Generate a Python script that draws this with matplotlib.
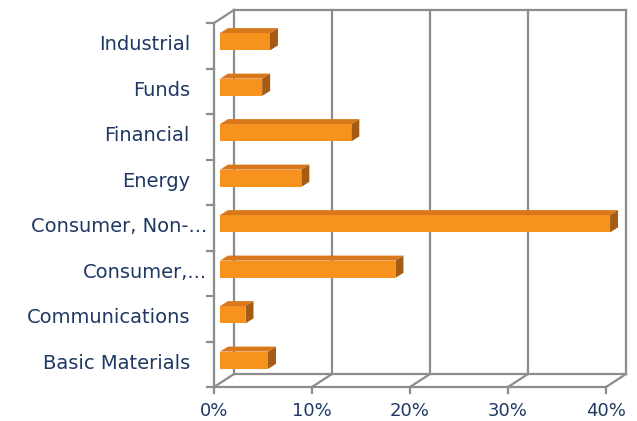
import matplotlib.pyplot as plt
from matplotlib.patches import Polygon
from matplotlib import transforms

plt.rcParams['font.family'] = ['DejaVu Sans']

categories = ["Basic Materials", "Communications", "Consumer,...", "Consumer, Non-...",
              "Energy", "Financial", "Funds", "Industrial"]
values = [4.9, 2.6, 17.9, 39.8, 8.3, 13.4, 4.3, 5.1]
xticks = [0, 10, 20, 30, 40]
xlabels = ["0%", "10%", "20%", "30%", "40%"]

front_c = "#F7921E"
top_c = "#D9781A"
side_c = "#A45C14"
grid_c = "#8C8C8C"
text_c = "#1F3864"

fig = plt.figure(figsize=(6.37, 4.21), dpi=100)
# axes in the plane of the bars' front faces
ax = fig.add_axes([220 / 637, 1 - 383 / 421, 392 / 637, 364 / 421])
ax.set_xlim(0, 40)
ax.set_ylim(-0.5, 7.5)
ax.axis("off")

def shifted(dx, dy):
    return transforms.offset_copy(ax.transData, fig=fig, x=dx, y=dy, units="dots")

back = shifted(14, 9)
front = shifted(-6, -4)
lw = 1.6

# back wall gridlines + top/bottom edges
for x in xticks:
    ax.plot([x, x], [-0.5, 7.5], color=grid_c, lw=lw, transform=back, clip_on=False)
ax.plot([0, 40], [7.5, 7.5], color=grid_c, lw=lw, transform=back, clip_on=False)
ax.plot([0, 40], [-0.5, -0.5], color=grid_c, lw=lw, transform=back, clip_on=False)

# front floor edge and left front edge
ax.plot([0, 40], [-0.5, -0.5], color=grid_c, lw=lw, transform=front, clip_on=False)
ax.plot([0, 0], [-0.5, 7.5], color=grid_c, lw=lw, transform=front, clip_on=False)

def seg(p1, p2):
    fig.add_artist(plt.Line2D([p1[0] / 637, p2[0] / 637], [p1[1] / 421, p2[1] / 421],
                              color=grid_c, lw=lw))

# floor diagonals and top-left diagonal
for x in xticks:
    seg(front.transform((x, -0.5)), back.transform((x, -0.5)))
seg(front.transform((0, 7.5)), back.transform((0, 7.5)))

# ticks
for i in range(len(categories) + 1):
    p = front.transform((0, i - 0.5))
    seg((p[0] - 7, p[1]), p)
for x, lab in zip(xticks, xlabels):
    p = front.transform((x, -0.5))
    seg(p, (p[0], p[1] - 6))
    fig.text(p[0] / 637, (p[1] - 24) / 421, lab, ha="center", va="center",
             fontsize=13, color=text_c)

# bars
h = 0.38
dx, dy = 8, 5
for i, (c, v) in enumerate(zip(categories, values)):
    y0, y1 = i - h / 2, i + h / 2
    ax.barh(i, v, height=h, color=front_c, edgecolor="none", zorder=3)
    a = ax.transData.transform((0, y1))
    b = ax.transData.transform((v, y1))
    c0 = ax.transData.transform((v, y0))
    top = Polygon([a, b, (b[0] + dx, b[1] + dy), (a[0] + dx, a[1] + dy)],
                  closed=True, transform=None, facecolor=top_c, edgecolor="none", zorder=3)
    side = Polygon([b, c0, (c0[0] + dx, c0[1] + dy), (b[0] + dx, b[1] + dy)],
                   closed=True, transform=None, facecolor=side_c, edgecolor="none", zorder=3)
    fig.add_artist(top)
    fig.add_artist(side)
    p = front.transform((0, i))
    xr = p[0] - 24 if not c.endswith("...") else p[0] - 7
    fig.text(xr / 637, (p[1] + 1) / 421, c, ha="right", va="center",
             fontsize=14, color=text_c)

fig.savefig("out.png", dpi=100)
